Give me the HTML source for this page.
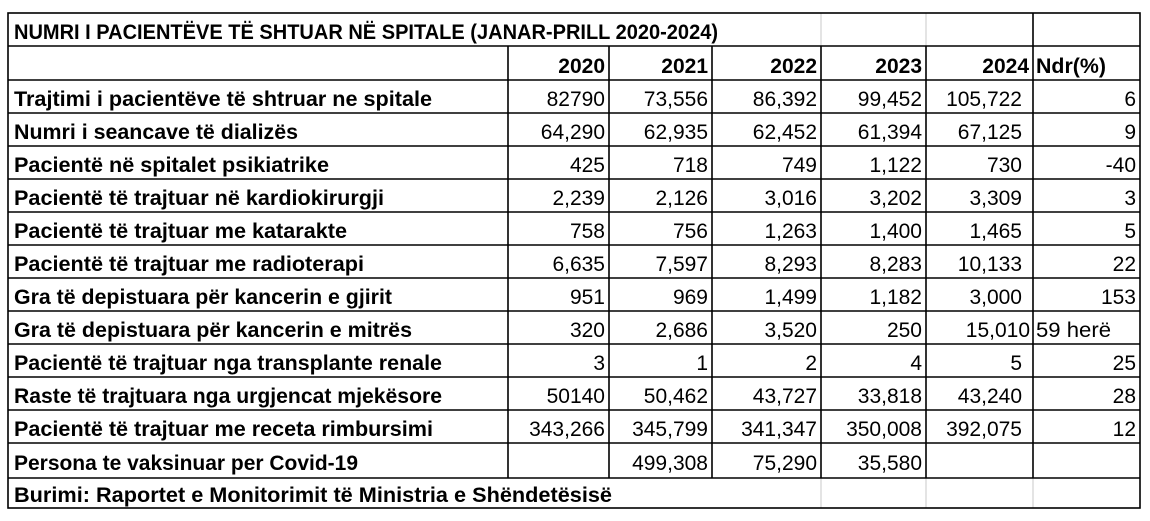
<!DOCTYPE html>
<html><head><meta charset="utf-8"><style>
html,body{margin:0;padding:0;background:#fff;}
svg{display:block;}
text{font-family:"Liberation Sans",sans-serif;font-size:21px;fill:#000;}
.b{font-weight:bold;}
.n{text-anchor:end;}
</style></head><body>
<svg width="1150" height="521" viewBox="0 0 1150 521" xmlns="http://www.w3.org/2000/svg">
<g stroke="#c8c8c8" stroke-width="1">
<line x1="821" y1="13" x2="821" y2="46"/><line x1="926" y1="13" x2="926" y2="46"/>
<line x1="821" y1="478" x2="821" y2="508"/><line x1="926" y1="478" x2="926" y2="508"/><line x1="1033" y1="478" x2="1033" y2="508"/>
</g>
<g stroke="#000" stroke-width="1.6">
<rect x="8" y="13" width="1132" height="495" fill="none"/>
<line x1="1033" y1="13" x2="1033" y2="46"/>
<line x1="8" y1="46" x2="1140" y2="46"/>
<line x1="8" y1="80" x2="1140" y2="80"/>
<line x1="8" y1="113" x2="1140" y2="113"/>
<line x1="8" y1="146" x2="1140" y2="146"/>
<line x1="8" y1="179" x2="1140" y2="179"/>
<line x1="8" y1="212" x2="1140" y2="212"/>
<line x1="8" y1="245" x2="1140" y2="245"/>
<line x1="8" y1="278" x2="1140" y2="278"/>
<line x1="8" y1="311" x2="1140" y2="311"/>
<line x1="8" y1="344" x2="1140" y2="344"/>
<line x1="8" y1="377" x2="1140" y2="377"/>
<line x1="8" y1="410" x2="1140" y2="410"/>
<line x1="8" y1="443" x2="1140" y2="443"/>
<line x1="8" y1="478" x2="1140" y2="478"/>
<line x1="508" y1="46" x2="508" y2="478"/>
<line x1="609" y1="46" x2="609" y2="478"/>
<line x1="712" y1="46" x2="712" y2="478"/>
<line x1="821" y1="46" x2="821" y2="478"/>
<line x1="926" y1="46" x2="926" y2="478"/>
<line x1="1033" y1="46" x2="1033" y2="478"/>
</g>
<text class="b" x="14" y="39" textLength="704" lengthAdjust="spacingAndGlyphs">NUMRI I PACIENTËVE TË SHTUAR NË SPITALE (JANAR-PRILL 2020-2024)</text>
<g class="b">
<text class="n b" x="605" y="73">2020</text><text class="n b" x="708" y="73">2021</text><text class="n b" x="817" y="73">2022</text><text class="n b" x="922" y="73">2023</text><text class="n b" x="1029" y="73">2024</text><text class="b" x="1036" y="73" textLength="70" lengthAdjust="spacingAndGlyphs">Ndr(%)</text>
</g>
<g>
<text class="b" x="14" y="106" textLength="418" lengthAdjust="spacingAndGlyphs">Trajtimi i pacientëve të shtruar ne spitale</text>
<text class="b" x="14" y="139" textLength="284" lengthAdjust="spacingAndGlyphs">Numri i seancave të dializës</text>
<text class="b" x="14" y="172" textLength="315" lengthAdjust="spacingAndGlyphs">Pacientë në spitalet psikiatrike</text>
<text class="b" x="14" y="205" textLength="370" lengthAdjust="spacingAndGlyphs">Pacientë të trajtuar në kardiokirurgji</text>
<text class="b" x="14" y="238" textLength="333" lengthAdjust="spacingAndGlyphs">Pacientë të trajtuar me katarakte</text>
<text class="b" x="14" y="271" textLength="350" lengthAdjust="spacingAndGlyphs">Pacientë të trajtuar me radioterapi</text>
<text class="b" x="14" y="304" textLength="378" lengthAdjust="spacingAndGlyphs">Gra të depistuara për kancerin e gjirit</text>
<text class="b" x="14" y="337" textLength="398" lengthAdjust="spacingAndGlyphs">Gra të depistuara për kancerin e mitrës</text>
<text class="b" x="14" y="370" textLength="428" lengthAdjust="spacingAndGlyphs">Pacientë të trajtuar nga transplante renale</text>
<text class="b" x="14" y="403" textLength="428" lengthAdjust="spacingAndGlyphs">Raste të trajtuara nga urgjencat mjekësore</text>
<text class="b" x="14" y="436" textLength="419" lengthAdjust="spacingAndGlyphs">Pacientë të trajtuar me receta rimbursimi</text>
<text class="b" x="14" y="470" textLength="344" lengthAdjust="spacingAndGlyphs">Persona te vaksinuar per Covid-19</text>
<text class="b" x="14" y="502" textLength="598" lengthAdjust="spacingAndGlyphs">Burimi: Raportet e Monitorimit të Ministria e Shëndetësisë</text>
</g>
<g class="nums">
<text class="n" x="605" y="106">82790</text><text class="n" x="708" y="106">73,556</text><text class="n" x="817" y="106">86,392</text><text class="n" x="922" y="106">99,452</text><text class="n" x="1022" y="106">105,722</text><text class="n" x="1136" y="106">6</text>
<text class="n" x="605" y="139">64,290</text><text class="n" x="708" y="139">62,935</text><text class="n" x="817" y="139">62,452</text><text class="n" x="922" y="139">61,394</text><text class="n" x="1022" y="139">67,125</text><text class="n" x="1136" y="139">9</text>
<text class="n" x="605" y="172">425</text><text class="n" x="708" y="172">718</text><text class="n" x="817" y="172">749</text><text class="n" x="922" y="172">1,122</text><text class="n" x="1022" y="172">730</text><text class="n" x="1136" y="172">-40</text>
<text class="n" x="605" y="205">2,239</text><text class="n" x="708" y="205">2,126</text><text class="n" x="817" y="205">3,016</text><text class="n" x="922" y="205">3,202</text><text class="n" x="1022" y="205">3,309</text><text class="n" x="1136" y="205">3</text>
<text class="n" x="605" y="238">758</text><text class="n" x="708" y="238">756</text><text class="n" x="817" y="238">1,263</text><text class="n" x="922" y="238">1,400</text><text class="n" x="1022" y="238">1,465</text><text class="n" x="1136" y="238">5</text>
<text class="n" x="605" y="271">6,635</text><text class="n" x="708" y="271">7,597</text><text class="n" x="817" y="271">8,293</text><text class="n" x="922" y="271">8,283</text><text class="n" x="1022" y="271">10,133</text><text class="n" x="1136" y="271">22</text>
<text class="n" x="605" y="304">951</text><text class="n" x="708" y="304">969</text><text class="n" x="817" y="304">1,499</text><text class="n" x="922" y="304">1,182</text><text class="n" x="1022" y="304">3,000</text><text class="n" x="1136" y="304">153</text>
<text class="n" x="605" y="337">320</text><text class="n" x="708" y="337">2,686</text><text class="n" x="817" y="337">3,520</text><text class="n" x="922" y="337">250</text><text class="n" x="1030" y="337">15,010</text><text x="1036" y="337" textLength="75" lengthAdjust="spacingAndGlyphs">59 herë</text>
<text class="n" x="605" y="370">3</text><text class="n" x="708" y="370">1</text><text class="n" x="817" y="370">2</text><text class="n" x="922" y="370">4</text><text class="n" x="1022" y="370">5</text><text class="n" x="1136" y="370">25</text>
<text class="n" x="605" y="403">50140</text><text class="n" x="708" y="403">50,462</text><text class="n" x="817" y="403">43,727</text><text class="n" x="922" y="403">33,818</text><text class="n" x="1022" y="403">43,240</text><text class="n" x="1136" y="403">28</text>
<text class="n" x="605" y="436">343,266</text><text class="n" x="708" y="436">345,799</text><text class="n" x="817" y="436">341,347</text><text class="n" x="922" y="436">350,008</text><text class="n" x="1022" y="436">392,075</text><text class="n" x="1136" y="436">12</text>
<text class="n" x="708" y="470">499,308</text><text class="n" x="817" y="470">75,290</text><text class="n" x="922" y="470">35,580</text>
</g>
</svg>
</body></html>
